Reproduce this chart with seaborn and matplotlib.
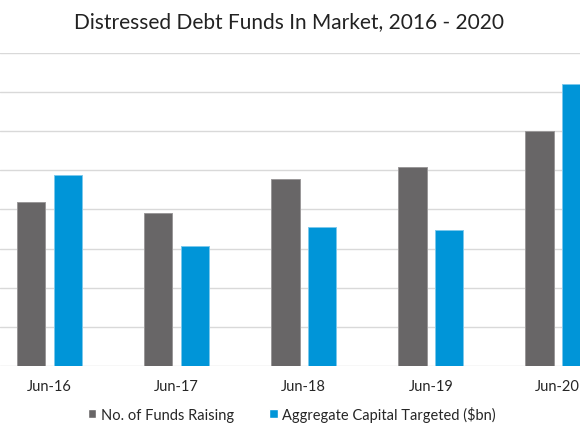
import matplotlib
matplotlib.use("Agg")
import pandas as pd
import seaborn as sns
from matplotlib import pyplot as plt

# values (one gridline = 10 units)
periods = ["Jun-16", "Jun-17", "Jun-18", "Jun-19", "Jun-20"]
funds_raising = [41.8, 39.0, 47.8, 50.8, 60.0]
capital_targeted = [48.8, 30.7, 35.5, 34.8, 72.0]
series_names = ["No. of Funds Raising", "Aggregate Capital Targeted ($bn)"]

GRAY = "#686667"
BLUE = "#0095d8"
TEXT = "#262626"

df = pd.DataFrame({
    "Period": periods * 2,
    "Value": funds_raising + capital_targeted,
    "Series": [series_names[0]] * len(periods) + [series_names[1]] * len(periods),
})

sns.set_style("white")
plt.rcParams["font.family"] = ["Lato", "DejaVu Sans"]

fig = plt.figure(figsize=(5.8, 4.35), dpi=100)
ax = fig.add_axes([0, 0.1563, 1, 0.7203])

sns.barplot(df, x="Period", y="Value", hue="Series", order=periods,
            hue_order=series_names, palette=[GRAY, BLUE], saturation=1,
            width=0.575, gap=0.23, ax=ax, legend=True, zorder=3)

# thin lighter outlines like the original
for cont, ec in zip(ax.containers, ["#9a9899", "#7cc8ec"]):
    for bar in cont:
        bar.set_edgecolor(ec)
        bar.set_linewidth(0.7)

ax.set_xlim(-0.391, 4.175)
ax.set_ylim(0, 80)
ax.set_yticks(range(0, 81, 10))
ax.set_yticklabels([])
ax.yaxis.grid(True, color="#d9d9d9", linewidth=1)
ax.set_axisbelow(True)
for s in ax.spines.values():
    s.set_visible(False)
ax.tick_params(axis="both", length=0)
ax.tick_params(axis="x", pad=9, labelsize=10.5, labelcolor=TEXT)
ax.set_xlabel("")
ax.set_ylabel("")

handles, labels = ax.get_legend_handles_labels()
ax.legend(handles, labels, loc="center", bbox_to_anchor=(0.503, 0.046),
          bbox_transform=fig.transFigure, ncol=2, frameon=False,
          fontsize=10.5, handlelength=0.6, handleheight=0.6,
          handletextpad=0.3, columnspacing=2.4, labelcolor=TEXT)

fig.text(0.498, 1 - 22 / 435, "Distressed Debt Funds In Market, 2016 - 2020",
         ha="center", va="center", fontsize=15, color="#222222")

fig.savefig("out.png", dpi=100)
